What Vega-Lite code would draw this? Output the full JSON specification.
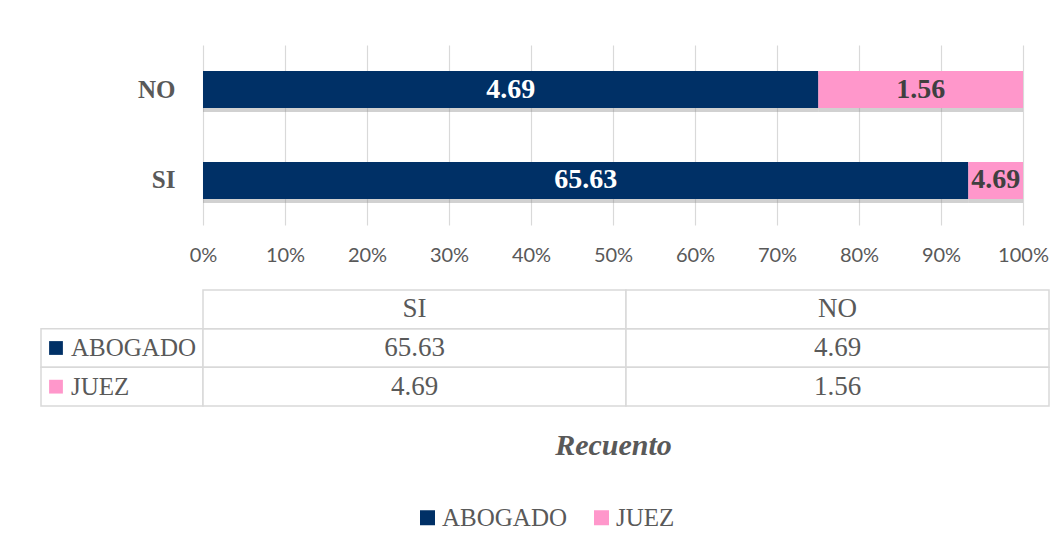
{
  "$schema": "https://vega.github.io/schema/vega-lite/v6.json",
  "background": "white",
  "padding": {"left": 40, "top": 45, "right": 5, "bottom": 5},
  "config": {"view": {"stroke": null}, "font": "Liberation Serif", "legend": {"layout": {"anchor": "middle"}}},
  "data": {
    "values": [
      {"respuesta": "SI", "rol": "ABOGADO", "valor": 65.63},
      {"respuesta": "SI", "rol": "JUEZ", "valor": 4.69},
      {"respuesta": "NO", "rol": "ABOGADO", "valor": 4.69},
      {"respuesta": "NO", "rol": "JUEZ", "valor": 1.56}
    ]
  },
  "columns": 2,
  "bounds": "flush",
  "spacing": {"row": 65, "column": 0},
  "resolve": {"scale": {"color": "shared"}},
  "concat": [
    {
      "width": 162,
      "height": 180,
      "data": {"values": []},
      "mark": "text"
    },
    {
      "width": 820,
      "height": 180,
      "encoding": {
        "y": {
          "field": "respuesta",
          "type": "nominal",
          "scale": {"domain": ["NO", "SI"], "paddingInner": 0.593, "paddingOuter": 0.286},
          "axis": {"title": null, "ticks": false, "domain": false, "labelFont": "Liberation Serif", "labelFontWeight": "bold", "labelFontSize": 25, "labelColor": "#595959", "labelPadding": 28}
        }
      },
      "layer": [
        {
          "mark": {"type": "bar", "color": "#8c8c8c", "opacity": 0.4, "yOffset": 4},
          "encoding": {
            "x": {
              "field": "valor",
              "type": "quantitative",
              "stack": "normalize",
              "scale": {"domain": [0, 1]},
              "axis": {"title": null, "format": "%", "values": [0, 0.1, 0.2, 0.3, 0.4, 0.5, 0.6, 0.7, 0.8, 0.9, 1], "labelFlush": false, "labelOverlap": false, "domain": false, "ticks": false, "gridColor": "#d9d9d9", "gridWidth": 1.2, "labelFont": "Lato", "labelFontSize": 20, "labelColor": "#595959", "labelPadding": 20}
            },
            "detail": {"field": "rol"},
            "order": {"field": "rol", "sort": "ascending"}
          }
        },
        {
          "mark": {"type": "bar"},
          "encoding": {
            "x": {"field": "valor", "type": "quantitative", "stack": "normalize"},
            "color": {
              "field": "rol",
              "type": "nominal",
              "scale": {"domain": ["ABOGADO", "JUEZ"], "range": ["#003066", "#FF97CB"]},
              "legend": {"title": null, "orient": "bottom", "direction": "horizontal", "symbolType": "square", "symbolSize": 225, "symbolStrokeWidth": 0, "labelFont": "Liberation Serif", "labelFontSize": 25, "labelColor": "#595959", "columnPadding": 22, "labelOffset": 2, "offset": 45}
            },
            "order": {"field": "rol", "sort": "ascending"}
          }
        },
        {
          "mark": {"type": "text", "font": "Liberation Serif", "fontWeight": "bold", "fontSize": 28, "baseline": "middle"},
          "encoding": {
            "x": {"field": "valor", "type": "quantitative", "stack": "normalize", "bandPosition": 0.5},
            "detail": {"field": "rol"},
            "order": {"field": "rol", "sort": "ascending"},
            "text": {"field": "valor", "type": "quantitative", "format": ".2f"},
            "color": {"condition": {"test": "datum.rol === 'ABOGADO'", "value": "white"}, "value": "#404040"}
          }
        }
      ]
    },
    {
      "width": 162,
      "height": 116,
      "transform": [{"filter": "datum.respuesta === 'SI'"}],
      "encoding": {
        "y": {"field": "rol", "type": "nominal", "scale": {"domain": ["hdr", "ABOGADO", "JUEZ"], "paddingInner": 0, "paddingOuter": 0}, "axis": null}
      },
      "layer": [
        {"mark": {"type": "rect", "fill": "white", "stroke": "#d9d9d9", "strokeWidth": 1.5}},
        {
          "mark": {"type": "point", "shape": "square", "filled": true, "size": 190, "opacity": 1, "xOffset": -66},
          "encoding": {"color": {"field": "rol", "type": "nominal"}}
        },
        {
          "mark": {"type": "text", "align": "left", "dx": -51, "font": "Liberation Serif", "fontSize": 25, "color": "#595959", "baseline": "middle"},
          "encoding": {"text": {"field": "rol"}}
        }
      ]
    },
    {
      "width": 846,
      "height": 116,
      "encoding": {
        "x": {
          "field": "respuesta",
          "type": "nominal",
          "scale": {"domain": ["SI", "NO"], "paddingInner": 0, "paddingOuter": 0},
          "axis": {"title": "Recuento", "labels": false, "ticks": false, "domain": false, "grid": false, "titleFont": "Liberation Serif", "titleFontSize": 30, "titleFontWeight": "bold", "titleFontStyle": "italic", "titleColor": "#595959", "titlePadding": 24, "titleX": 410}
        }
      },
      "layer": [
        {
          "mark": {"type": "rect", "fill": "white", "stroke": "#d9d9d9", "strokeWidth": 1.5},
          "encoding": {"y": {"field": "rol", "type": "nominal", "scale": {"domain": ["hdr", "ABOGADO", "JUEZ"], "paddingInner": 0, "paddingOuter": 0}, "axis": null}}
        },
        {
          "mark": {"type": "text", "font": "Liberation Serif", "fontSize": 27, "color": "#595959", "baseline": "middle"},
          "encoding": {
            "y": {"field": "rol", "type": "nominal", "axis": null},
            "text": {"field": "valor", "type": "quantitative", "format": ".2f"}
          }
        },
        {
          "transform": [{"aggregate": [{"op": "count", "as": "n"}], "groupby": ["respuesta"]}],
          "layer": [
            {
              "mark": {"type": "rect", "fill": "white", "stroke": "#d9d9d9", "strokeWidth": 1.5},
              "encoding": {"y": {"datum": "hdr", "type": "nominal", "axis": null}}
            },
            {
              "mark": {"type": "text", "font": "Liberation Serif", "fontSize": 27, "color": "#595959", "baseline": "middle"},
              "encoding": {
                "y": {"datum": "hdr", "type": "nominal", "axis": null},
                "text": {"field": "respuesta"}
              }
            }
          ]
        }
      ]
    }
  ]
}
